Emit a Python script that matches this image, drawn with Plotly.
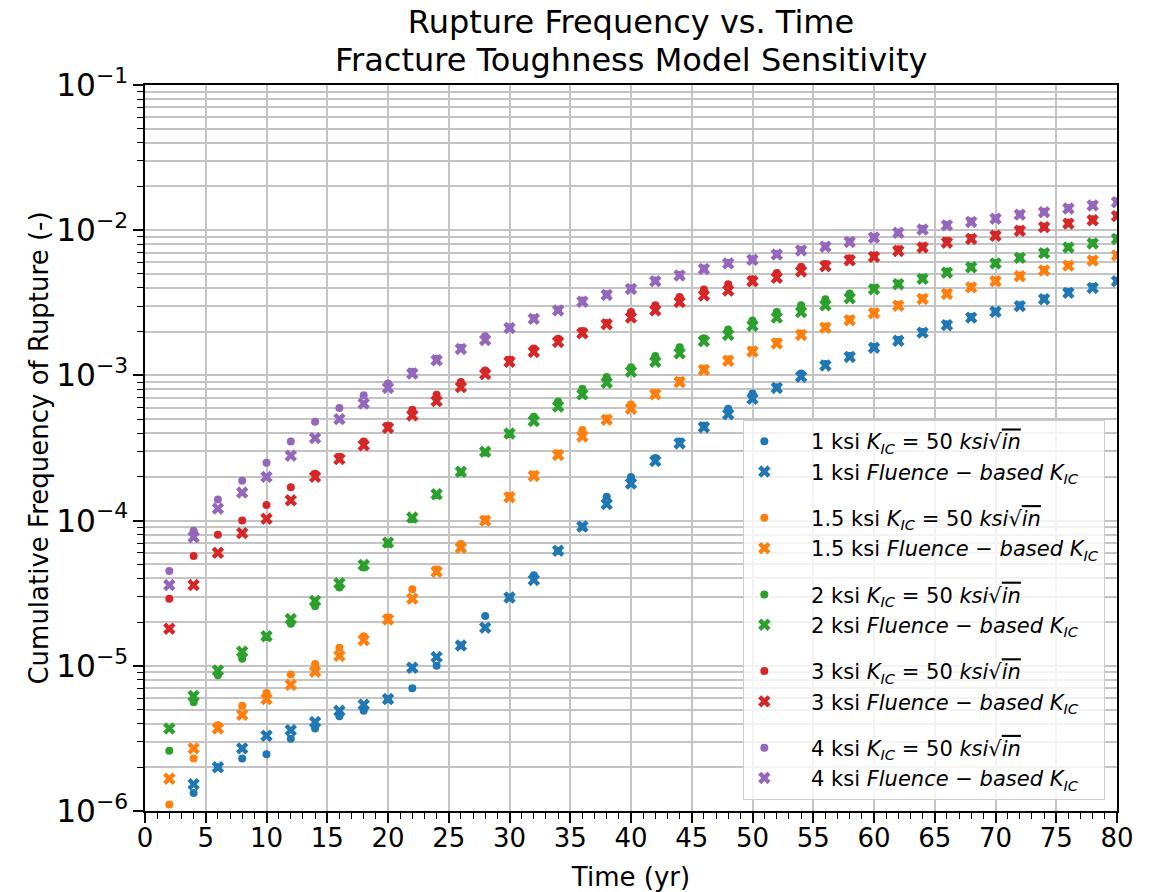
import plotly.graph_objects as go

time_yr = list(range(2, 82, 2))

blue_k50 = [None, 1.33e-6, 2.0e-6, 2.3e-6, 2.46e-6, 3.15e-6, 3.7e-6, 4.5e-6, 4.9e-6, 5.9e-6,
            7.0e-6, 1.0e-5, 1.38e-5, 2.2e-5, 2.95e-5, 4.2e-5, 6.2e-5, 9.1e-5, 1.46e-4, 2.0e-4,
            2.7e-4, 3.5e-4, 4.5e-4, 5.9e-4, 7.5e-4, 8.3e-4, 1.03e-3, 1.2e-3, 1.36e-3, 1.57e-3,
            1.75e-3, 1.99e-3, 2.25e-3, 2.52e-3, 2.76e-3, 3.04e-3, 3.38e-3, 3.75e-3, 4.06e-3, 4.5e-3]
blue_flu = [None, 1.53e-6, 2.0e-6, 2.7e-6, 3.3e-6, 3.6e-6, 4.1e-6, 4.9e-6, 5.4e-6, 5.9e-6,
            9.7e-6, 1.15e-5, 1.38e-5, 1.83e-5, 2.95e-5, 3.9e-5, 6.2e-5, 9.1e-5, 1.3e-4, 1.8e-4,
            2.57e-4, 3.4e-4, 4.4e-4, 5.4e-4, 6.9e-4, 8.2e-4, 9.8e-4, 1.17e-3, 1.34e-3, 1.55e-3,
            1.73e-3, 1.97e-3, 2.22e-3, 2.5e-3, 2.74e-3, 3.0e-3, 3.35e-3, 3.7e-3, 4.0e-3, 4.45e-3]
orange_k50 = [1.11e-6, 2.3e-6, 3.9e-6, 5.3e-6, 6.5e-6, 8.7e-6, 1.03e-5, 1.33e-5, 1.6e-5, 2.15e-5,
              3.37e-5, 4.6e-5, 6.9e-5, 1.02e-4, 1.48e-4, 2.07e-4, 2.9e-4, 4.2e-4, 5.05e-4, 6.3e-4,
              7.6e-4, 9.2e-4, 1.11e-3, 1.29e-3, 1.49e-3, 1.7e-3, 1.94e-3, 2.17e-3, 2.44e-3, 2.72e-3,
              3.06e-3, 3.4e-3, 3.68e-3, 4.08e-3, 4.5e-3, 4.87e-3, 5.33e-3, 5.76e-3, 6.23e-3, 6.75e-3]
orange_flu = [1.67e-6, 2.7e-6, 3.7e-6, 4.6e-6, 5.9e-6, 7.4e-6, 9.1e-6, 1.17e-5, 1.5e-5, 2.08e-5,
              2.9e-5, 4.45e-5, 6.5e-5, 1.0e-4, 1.45e-4, 2.03e-4, 2.83e-4, 3.8e-4, 4.95e-4, 5.9e-4,
              7.4e-4, 9.0e-4, 1.09e-3, 1.26e-3, 1.46e-3, 1.66e-3, 1.9e-3, 2.13e-3, 2.4e-3, 2.68e-3,
              3.02e-3, 3.36e-3, 3.64e-3, 4.04e-3, 4.45e-3, 4.82e-3, 5.28e-3, 5.7e-3, 6.18e-3, 6.7e-3]
green_k50 = [2.6e-6, 5.6e-6, 8.6e-6, 1.12e-5, 1.58e-5, 1.95e-5, 2.57e-5, 3.46e-5, 4.75e-5, 6.9e-5,
             1.02e-4, 1.5e-4, 2.15e-4, 2.95e-4, 3.95e-4, 5.2e-4, 6.6e-4, 8.1e-4, 9.75e-4, 1.14e-3,
             1.36e-3, 1.56e-3, 1.8e-3, 2.07e-3, 2.39e-3, 2.73e-3, 3.04e-3, 3.34e-3, 3.66e-3, 4.0e-3,
             4.3e-3, 4.7e-3, 5.2e-3, 5.6e-3, 5.95e-3, 6.5e-3, 7.0e-3, 7.7e-3, 8.15e-3, 8.8e-3]
green_flu = [3.7e-6, 6.2e-6, 9.3e-6, 1.25e-5, 1.6e-5, 2.1e-5, 2.8e-5, 3.7e-5, 4.95e-5, 7.05e-5,
             1.05e-4, 1.52e-4, 2.17e-4, 2.98e-4, 3.98e-4, 4.85e-4, 6.1e-4, 7.4e-4, 8.9e-4, 1.06e-3,
             1.24e-3, 1.42e-3, 1.72e-3, 1.9e-3, 2.2e-3, 2.5e-3, 2.73e-3, 3.04e-3, 3.4e-3, 3.92e-3,
             4.25e-3, 4.62e-3, 5.1e-3, 5.55e-3, 5.9e-3, 6.45e-3, 6.95e-3, 7.6e-3, 8.1e-3, 8.7e-3]
red_k50 = [2.9e-5, 5.7e-5, 8.0e-5, 1.0e-4, 1.28e-4, 1.7e-4, 2.1e-4, 2.75e-4, 3.5e-4, 4.5e-4,
           5.8e-4, 7.35e-4, 9.0e-4, 1.08e-3, 1.28e-3, 1.53e-3, 1.79e-3, 2.02e-3, 2.3e-3, 2.73e-3,
           3.04e-3, 3.47e-3, 3.9e-3, 4.24e-3, 4.6e-3, 5.07e-3, 5.6e-3, 5.85e-3, 6.4e-3, 6.7e-3,
           7.4e-3, 7.75e-3, 8.45e-3, 8.85e-3, 9.3e-3, 1.01e-2, 1.06e-2, 1.13e-2, 1.19e-2, 1.27e-2]
red_flu = [1.8e-5, 3.6e-5, 6.0e-5, 8.2e-5, 1.03e-4, 1.38e-4, 2.0e-4, 2.65e-4, 3.3e-4, 4.35e-4,
           5.3e-4, 6.65e-4, 8.3e-4, 1.02e-3, 1.24e-3, 1.45e-3, 1.7e-3, 1.95e-3, 2.25e-3, 2.5e-3,
           2.8e-3, 3.2e-3, 3.55e-3, 3.84e-3, 4.45e-3, 4.7e-3, 5.2e-3, 5.65e-3, 6.2e-3, 6.55e-3,
           7.2e-3, 7.6e-3, 8.2e-3, 8.7e-3, 9.15e-3, 9.9e-3, 1.05e-2, 1.11e-2, 1.17e-2, 1.25e-2]
purple_k50 = [4.5e-5, 8.5e-5, 1.4e-4, 1.88e-4, 2.5e-4, 3.5e-4, 4.8e-4, 5.96e-4, 7.3e-4, 8.8e-4,
              1.06e-3, 1.3e-3, 1.55e-3, 1.86e-3, 2.15e-3, 2.48e-3, 2.83e-3, 3.28e-3, 3.62e-3, 3.98e-3,
              4.5e-3, 4.92e-3, 5.45e-3, 5.95e-3, 6.3e-3, 6.85e-3, 7.3e-3, 7.75e-3, 8.35e-3, 8.95e-3,
              9.65e-3, 1.02e-2, 1.09e-2, 1.15e-2, 1.21e-2, 1.29e-2, 1.34e-2, 1.42e-2, 1.49e-2, 1.58e-2]
purple_flu = [3.6e-5, 7.7e-5, 1.21e-4, 1.56e-4, 2.0e-4, 2.8e-4, 3.7e-4, 5.0e-4, 6.4e-4, 8.2e-4,
              1.03e-3, 1.27e-3, 1.52e-3, 1.75e-3, 2.12e-3, 2.45e-3, 2.8e-3, 3.22e-3, 3.58e-3, 3.94e-3,
              4.45e-3, 4.88e-3, 5.4e-3, 5.9e-3, 6.25e-3, 6.8e-3, 7.25e-3, 7.7e-3, 8.3e-3, 8.9e-3,
              9.6e-3, 1.01e-2, 1.08e-2, 1.14e-2, 1.2e-2, 1.28e-2, 1.33e-2, 1.41e-2, 1.48e-2, 1.56e-2]

stress_labels = ["1", "1.5", "2", "3", "4"]
colors = ["#1f77b4", "#ff7f0e", "#2ca02c", "#d62728", "#9467bd"]
k50_series = [blue_k50, orange_k50, green_k50, red_k50, purple_k50]
flu_series = [blue_flu, orange_flu, green_flu, red_flu, purple_flu]

title_line1 = "Rupture Frequency vs. Time"
title_line2 = "Fracture Toughness Model Sensitivity"

FONT = "DejaVu Sans"
PAD = "&nbsp;&nbsp;&nbsp;&nbsp;"
k50_text = "<i>K</i><sub><i>IC</i></sub> = 50 <i>ksi</i>√<span style='text-decoration:overline'><i>in</i></span>"
flu_text = "<i>Fluence</i> − <i>based</i> <i>K</i><sub><i>IC</i></sub>"

fig = go.Figure()
for lab, col, yk, yf in zip(stress_labels, colors, k50_series, flu_series):
    fig.add_trace(go.Scatter(
        x=time_yr, y=yk, mode="markers", name=f"{PAD}{lab} ksi {k50_text}",
        legendgroup=lab,
        marker=dict(symbol="circle", size=8, color=col, line=dict(width=0)),
    ))
    fig.add_trace(go.Scatter(
        x=time_yr, y=yf, mode="markers", name=f"{PAD}{lab} ksi {flu_text}",
        legendgroup=lab,
        marker=dict(symbol="x", size=11, color=col, line=dict(width=0)),
    ))

grid_col = "#c4c4c4"
fig.update_layout(
    width=1157, height=892,
    margin=dict(l=145, r=40, t=85, b=81, autoexpand=False),
    paper_bgcolor="white", plot_bgcolor="white",
    font=dict(family=FONT, size=26, color="black"),
    title=dict(
        text=title_line1,
        x=0.5, xref="paper", xanchor="center",
        y=0.9753, yref="container", yanchor="middle",
        font=dict(family=FONT, size=32, color="black"),
    ),
    annotations=[dict(
        text=title_line2, x=0.5, xref="paper", xanchor="center",
        y=1.034, yref="paper", yanchor="middle", showarrow=False,
        font=dict(family=FONT, size=32, color="black"),
    )],
    showlegend=True,
    legend=dict(
        x=0.988, y=0.015, xanchor="right", yanchor="bottom",
        bgcolor="rgba(255,255,255,0.8)", bordercolor="#cccccc", borderwidth=1,
        font=dict(family=FONT, size=21, color="black"),
        traceorder="grouped", tracegroupgap=16,
    ),
)
fig.update_xaxes(
    range=[0, 80], dtick=5, tick0=0, automargin=False,
    showline=True, linecolor="black", linewidth=1.6, mirror=True,
    ticks="outside", ticklen=10, tickwidth=1.6, tickcolor="black",
    ticklabelstandoff=-7, tickfont=dict(size=26),
    showgrid=True, gridcolor=grid_col, gridwidth=1.5, zeroline=False,
    minor=dict(dtick=1, tick0=0, ticks="outside", ticklen=6, tickwidth=1.2,
               tickcolor="black", showgrid=False),
    title=dict(text="Time (yr)", font=dict(family=FONT, size=26), standoff=19),
)
fig.update_yaxes(
    type="log", range=[-6, -1], dtick=1, exponentformat="power", automargin=False,
    showline=True, linecolor="black", linewidth=1.6, mirror=True,
    ticks="outside", ticklen=10, tickwidth=1.6, tickcolor="black",
    tickfont=dict(size=25),
    showgrid=True, gridcolor=grid_col, gridwidth=1.5, zeroline=False,
    minor=dict(dtick="D1", ticks="outside", ticklen=6, tickwidth=1.2,
               tickcolor="black", showgrid=True, gridcolor=grid_col, gridwidth=1.5),
    title=dict(text="Cumulative Frequency of Rupture (-)", font=dict(family=FONT, size=26), standoff=0),
)

fig.write_html("out.html")
